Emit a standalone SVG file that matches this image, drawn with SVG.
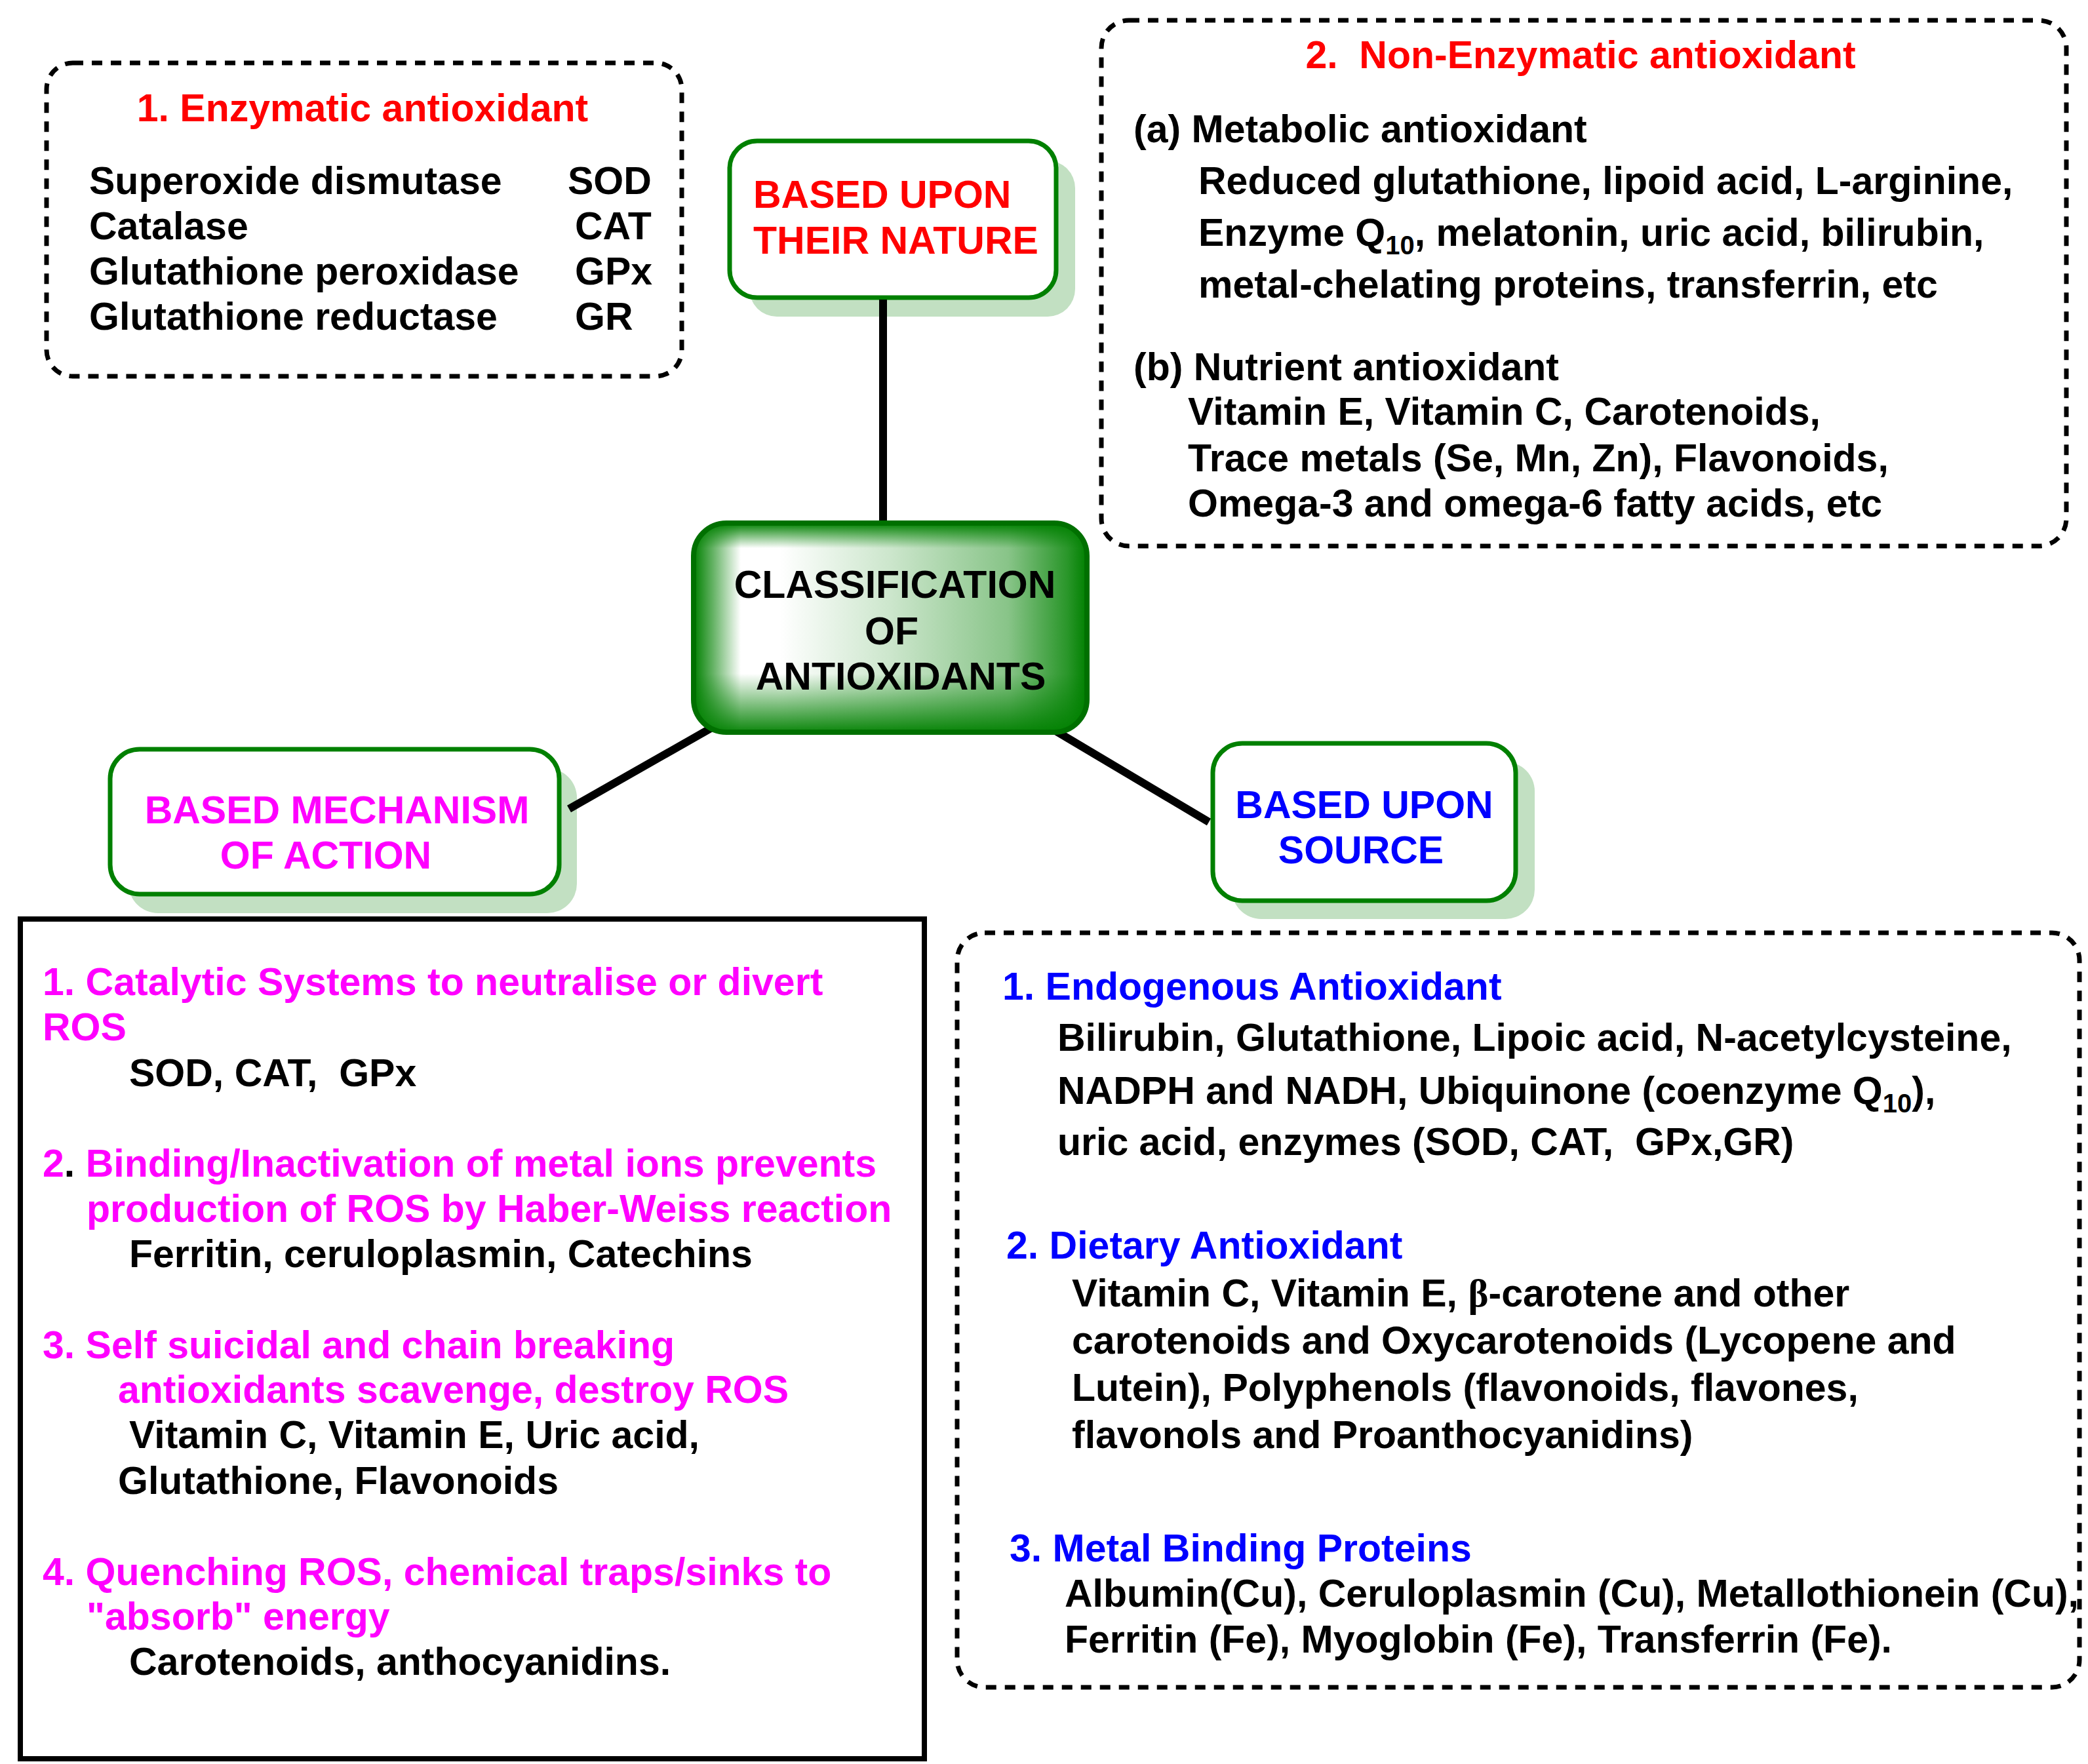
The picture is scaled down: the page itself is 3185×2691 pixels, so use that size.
<svg xmlns="http://www.w3.org/2000/svg" width="3185" height="2691" viewBox="0 0 3185 2691">
<style>
.t{font-family:"Liberation Sans",Arial,sans-serif;font-weight:bold;font-size:59px;fill:#000}
.r{fill:#ff0000}.m{fill:#ff00ff}.b{fill:#0000ff}.k{fill:#000}
.dash{fill:none;stroke:#000;stroke-width:7;stroke-dasharray:16 13}
.solid{fill:#fff;stroke:#000;stroke-width:8}
.node{fill:#fff;stroke:#008000;stroke-width:7}
.shadow{fill:#c2e0c2}
.conn{stroke:#000;stroke-width:12;fill:none}
</style>
<defs>
<linearGradient id="gh" x1="0" y1="0" x2="1" y2="0">
<stop offset="0" stop-color="#008000"/>
<stop offset="0.05" stop-color="#66b366"/>
<stop offset="0.12" stop-color="#ffffff"/>
<stop offset="0.22" stop-color="#ffffff"/>
<stop offset="0.5" stop-color="#cce6cc"/>
<stop offset="0.8" stop-color="#88c488"/>
<stop offset="0.95" stop-color="#2a962a"/>
<stop offset="1" stop-color="#008000"/>
</linearGradient>
<linearGradient id="gv" x1="0" y1="0" x2="0" y2="1">
<stop offset="0" stop-color="#008000" stop-opacity="1"/>
<stop offset="0.12" stop-color="#008000" stop-opacity="0"/>
<stop offset="0.72" stop-color="#008000" stop-opacity="0"/>
<stop offset="1" stop-color="#008000" stop-opacity="0.95"/>
</linearGradient>
</defs>
<rect width="3185" height="2691" fill="#fff"/>

<g id="box-enzymatic">
<rect class="dash" x="71" y="96" width="969" height="478" rx="40"/>
<text class="t r" x="553" y="185" text-anchor="middle">1. Enzymatic antioxidant</text>
<text class="t" x="136" y="296">Superoxide dismutase</text>
<text class="t" x="136" y="365">Catalase</text>
<text class="t" x="136" y="434">Glutathione peroxidase</text>
<text class="t" x="136" y="503">Glutathione reductase</text>
<text class="t" x="866" y="296">SOD</text>
<text class="t" x="877" y="365">CAT</text>
<text class="t" x="877" y="434">GPx</text>
<text class="t" x="877" y="503">GR</text>
</g>

<g id="box-nonenzymatic">
<rect class="dash" x="1680" y="31" width="1472" height="802" rx="42"/>
<text class="t r" x="2411" y="104" text-anchor="middle" xml:space="preserve">2.  Non-Enzymatic antioxidant</text>
<text class="t" x="1729" y="217">(a) Metabolic antioxidant</text>
<text class="t" x="1828" y="296">Reduced glutathione, lipoid acid, L-arginine,</text>
<text class="t" x="1828" y="375">Enzyme Q<tspan font-size="40" dy="13">10</tspan><tspan dy="-13">, melatonin, uric acid, bilirubin,</tspan></text>
<text class="t" x="1828" y="454">metal-chelating proteins, transferrin, etc</text>
<text class="t" x="1729" y="580">(b) Nutrient antioxidant</text>
<text class="t" x="1812" y="648">Vitamin E, Vitamin C, Carotenoids,</text>
<text class="t" x="1812" y="719">Trace metals (Se, Mn, Zn), Flavonoids,</text>
<text class="t" x="1812" y="788">Omega-3 and omega-6 fatty acids, etc</text>
</g>

<g id="node-nature">
<rect class="shadow" x="1143" y="245" width="497" height="238" rx="42"/>
<rect class="node" x="1113" y="215" width="498" height="239" rx="42"/>
<text class="t r" x="1149" y="317">BASED UPON</text>
<text class="t r" x="1149" y="387">THEIR NATURE</text>
</g>

<g id="node-mechanism">
<rect class="shadow" x="196" y="1172" width="684" height="221" rx="45"/>
<rect class="node" x="168" y="1143" width="685" height="221" rx="45"/>
<text class="t m" x="514" y="1256" text-anchor="middle">BASED MECHANISM</text>
<text class="t m" x="497" y="1325" text-anchor="middle">OF ACTION</text>
</g>

<g id="node-source">
<rect class="shadow" x="1879" y="1162" width="462" height="240" rx="45"/>
<rect class="node" x="1850" y="1134" width="462" height="240" rx="45"/>
<text class="t b" x="2081" y="1248" text-anchor="middle">BASED UPON</text>
<text class="t b" x="2076" y="1317" text-anchor="middle">SOURCE</text>
</g>

<g id="connectors">
<line class="conn" x1="1347" y1="457" x2="1347" y2="820"/>
<line class="conn" x1="1100" y1="1102" x2="868" y2="1234"/>
<line class="conn" x1="1590" y1="1103" x2="1844" y2="1254"/>
</g>

<g id="node-center">
<rect x="1058" y="798" width="600" height="319" rx="50" fill="url(#gh)"/>
<rect x="1058" y="798" width="600" height="319" rx="50" fill="url(#gv)" stroke="#007000" stroke-width="8"/>
<text class="t" x="1365" y="912" text-anchor="middle">CLASSIFICATION</text>
<text class="t" x="1360" y="983" text-anchor="middle">OF</text>
<text class="t" x="1374" y="1052" text-anchor="middle">ANTIOXIDANTS</text>
</g>

<g id="box-mechanism-list">
<rect class="solid" x="31" y="1402" width="1379" height="1281"/>
<text class="t m" x="65" y="1518">1. Catalytic Systems to neutralise or divert</text>
<text class="t m" x="65" y="1587">ROS</text>
<text class="t" x="197" y="1657" xml:space="preserve">SOD, CAT,  GPx</text>
<text class="t m" x="65" y="1795">2<tspan class="k">.</tspan> Binding/Inactivation of metal ions prevents</text>
<text class="t m" x="132" y="1864">production of ROS by Haber-Weiss reaction</text>
<text class="t" x="197" y="1933">Ferritin, ceruloplasmin, Catechins</text>
<text class="t m" x="65" y="2072">3. Self suicidal and chain breaking</text>
<text class="t m" x="180" y="2140">antioxidants scavenge, destroy ROS</text>
<text class="t" x="197" y="2209">Vitamin C, Vitamin E, Uric acid,</text>
<text class="t" x="180" y="2279">Glutathione, Flavonoids</text>
<text class="t m" x="65" y="2418">4. Quenching ROS, chemical traps/sinks to</text>
<text class="t m" x="132" y="2486">"absorb" energy</text>
<text class="t" x="197" y="2555">Carotenoids, anthocyanidins.</text>
</g>

<g id="box-source-list">
<rect class="dash" x="1460" y="1423" width="1712" height="1151" rx="42"/>
<text class="t b" x="1529" y="1525">1. Endogenous Antioxidant</text>
<text class="t" x="1613" y="1603">Bilirubin, Glutathione, Lipoic acid, N-acetylcysteine,</text>
<text class="t" x="1613" y="1684">NADPH and NADH, Ubiquinone (coenzyme Q<tspan font-size="40" dy="13">10</tspan><tspan dy="-13">),</tspan></text>
<text class="t" x="1613" y="1762" xml:space="preserve">uric acid, enzymes (SOD, CAT,  GPx,GR)</text>
<text class="t b" x="1535" y="1920">2. Dietary Antioxidant</text>
<text class="t" x="1635" y="1993">Vitamin C, Vitamin E, <tspan font-family="Liberation Serif,serif">β</tspan>-carotene and other</text>
<text class="t" x="1635" y="2065">carotenoids and Oxycarotenoids (Lycopene and</text>
<text class="t" x="1635" y="2137">Lutein), Polyphenols (flavonoids, flavones,</text>
<text class="t" x="1635" y="2209">flavonols and Proanthocyanidins)</text>
<text class="t b" x="1540" y="2382">3. Metal Binding Proteins</text>
<text class="t" x="1624" y="2451">Albumin(Cu), Ceruloplasmin (Cu), Metallothionein (Cu),</text>
<text class="t" x="1624" y="2521">Ferritin (Fe), Myoglobin (Fe), Transferrin (Fe).</text>
</g>
</svg>
